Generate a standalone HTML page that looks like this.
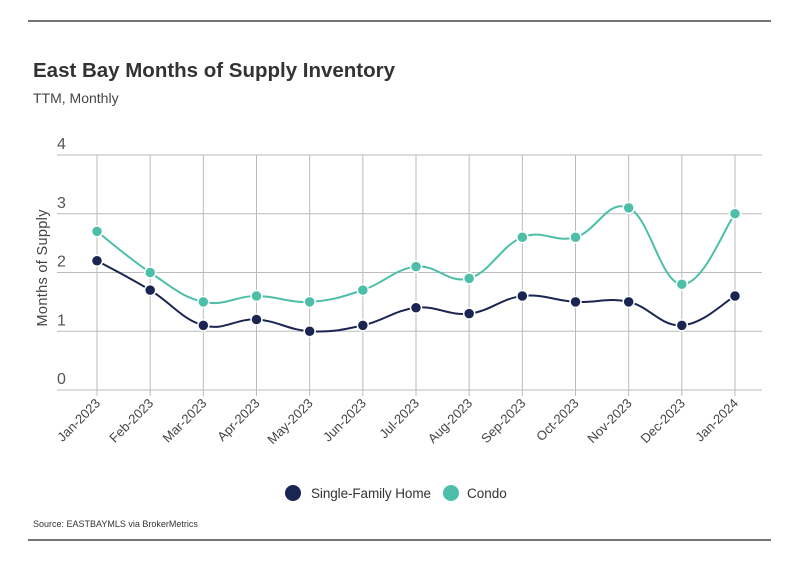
<!DOCTYPE html>
<html><head><meta charset="utf-8"><style>
body{margin:0;background:#fff;width:799px;height:575px;overflow:hidden;font-family:"Liberation Sans",sans-serif}
svg{display:block}
</style></head><body>
<svg width="799" height="575" id="c">
<line x1="28" y1="21" x2="771" y2="21" stroke="#222" stroke-width="1.2"/>
<text x="33" y="77" font-size="20.5" font-weight="bold" fill="#333" textLength="362">East Bay Months of Supply Inventory</text>
<text x="33" y="103" font-size="14" fill="#444">TTM, Monthly</text>
<text transform="translate(47,268) rotate(-90)" text-anchor="middle" font-size="14.5" fill="#444" textLength="117">Months of Supply</text>
<g id="grid"></g><g id="lines"></g><g id="xl"></g>
<g>
<circle cx="293" cy="493" r="8" fill="#1b2552"/>
<text x="311" y="498" font-size="13.5" fill="#333" textLength="120">Single-Family Home</text>
<circle cx="451" cy="493" r="8" fill="#4dbfa8"/>
<text x="467" y="498" font-size="13.5" fill="#333">Condo</text>
</g>
<text x="33" y="527" font-size="9" fill="#333">Source:  EASTBAYMLS via BrokerMetrics</text>
<line x1="28" y1="540" x2="771" y2="540" stroke="#222" stroke-width="1.2"/>
</svg>
<script>
const categories=["Jan-2023","Feb-2023","Mar-2023","Apr-2023","May-2023","Jun-2023","Jul-2023","Aug-2023","Sep-2023","Oct-2023","Nov-2023","Dec-2023","Jan-2024"];
const sfhValues=[2.2,1.7,1.1,1.2,1.0,1.1,1.4,1.3,1.6,1.5,1.5,1.1,1.6];
const condoValues=[2.7,2.0,1.5,1.6,1.5,1.7,2.1,1.9,2.6,2.6,3.1,1.8,3.0];
const yTicks=[0,1,2,3,4];
const NS="http://www.w3.org/2000/svg";
function x(i){return 97+i*(735-97)/(categories.length-1);}
function y(v){return 390-v*(390-155)/4;}
function mk(t,a,p){const e=document.createElementNS(NS,t);for(const k in a)e.setAttribute(k,a[k]);p.appendChild(e);return e;}
const g=document.getElementById('grid'),L=document.getElementById('lines'),X=document.getElementById('xl');
yTicks.forEach(v=>{
 const l=mk('line',{x1:57,x2:762,y1:y(v),y2:y(v),stroke:'#bbb','stroke-width':1},g);
 
 
 const t=mk('text',{x:57,y:y(v)-6,'font-size':16,fill:'#555'},g);t.textContent=v;
 
 
});
categories.forEach((c,i)=>{
 const l=mk('line',{x1:x(i),x2:x(i),y1:155,y2:396,stroke:'#bbb','stroke-width':1},g);
 
 
 const t=mk('text',{transform:`translate(${x(i)+4},${404}) rotate(-45)`,'text-anchor':'end','font-size':13,fill:'#444'},X);t.textContent=c;
 
 
});
function path(vals){
 const p=vals.map((v,i)=>[x(i),y(v)]);let d=`M${p[0][0]},${p[0][1]}`;
 for(let i=0;i<p.length-1;i++){const p0=p[Math.max(0,i-1)],p1=p[i],p2=p[i+1],p3=p[Math.min(p.length-1,i+2)];
  const k=0.2;d+=` C${p1[0]+(p2[0]-p0[0])*k},${p1[1]+(p2[1]-p0[1])*k} ${p2[0]-(p3[0]-p1[0])*k},${p2[1]-(p3[1]-p1[1])*k} ${p2[0]},${p2[1]}`;}
 return d;}
[[condoValues,'#4dbfa8','condo'],[sfhValues,'#1b2552','sfh']].forEach(([vals,col,n])=>{
 const pl=mk('path',{d:path(vals),fill:'none',stroke:col,'stroke-width':2},L);
 
 
 vals.forEach((v,i)=>{const c=mk('circle',{cx:x(i),cy:y(v),r:5.5,fill:col,stroke:'#fff','stroke-width':1.5},L);
  
  });
});
</script>
</body></html>
